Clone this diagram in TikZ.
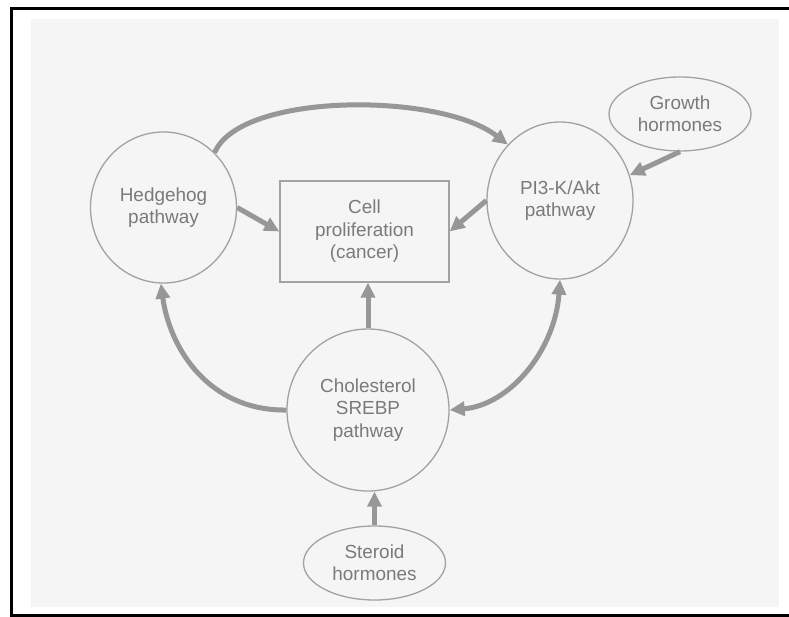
\documentclass[tikz,border=0pt]{standalone}
\usepackage{fontspec}
\setmainfont{Liberation Sans}
\usetikzlibrary{arrows.meta,shapes.geometric}
\definecolor{bggray}{HTML}{F5F5F5}
\definecolor{rimgray}{HTML}{A2A2A2}
\definecolor{arrgray}{HTML}{979797}
\definecolor{txtgray}{HTML}{7A7A7A}

\begin{document}
\begin{tikzpicture}[x=1bp,y=-1bp,
  blob/.style={ellipse, draw=rimgray, line width=1.3bp, inner sep=0pt,
    text=txtgray, align=center, font=\fontsize{19}{22.5}\selectfont},
  cellbox/.style={rectangle, draw=rimgray, line width=1.3bp, inner sep=0pt,
    text=txtgray, align=center, font=\fontsize{19}{22.5}\selectfont},
  link/.style={draw=arrgray, line width=5bp,
    -{Triangle[length=15bp,width=14bp]}},
  both/.style={draw=arrgray, line width=5bp,
    {Triangle[length=15bp,width=14bp]}-{Triangle[length=15bp,width=14bp]}}]
\useasboundingbox (0,0) rectangle (789,617);
\fill[bggray] (31,19) rectangle (779,607);
\draw[black, line width=3.2bp] (11.5,617) -- (11.5,8.5) -- (789,8.5);
\draw[black, line width=3bp] (10,615.5) -- (789,615.5);
% the pathways
\node[blob, minimum width=146bp, minimum height=151bp] (hedge) at (163.5,207.5) {Hedgehog\\pathway};
\node[cellbox, minimum width=169bp, minimum height=101bp] (cell) at (364.5,231.5) {Cell\\proliferation\\(cancer)};
\node[blob, minimum width=146bp, minimum height=157bp] (pik) at (560,200.5) {PI3-K/Akt\\pathway};
\node[blob, minimum width=142bp, minimum height=74bp] (growth) at (680,114) {Growth\\hormones};
\node[blob, minimum width=162bp, minimum height=162bp] (chol) at (368,410) {Cholesterol\\SREBP\\pathway};
\node[blob, minimum width=142bp, minimum height=74bp] (steroid) at (374.5,563) {Steroid\\hormones};
% links
\draw[link] (hedge.47) .. controls (240,92) and (440,92) .. (pik.133);
\draw[link] (hedge.east) -- (cell.west);
\draw[link] (pik.west) -- (cell.east);
\draw[link] (growth.south) -- (pik.20);
\draw[link] (chol.north) -- (chol.north |- cell.south);
\draw[link] (chol.west) .. controls (210,411) and (170,350) .. (hedge.268);
\draw[both] (pik.south) .. controls (555,350) and (510,405) .. (chol.east);
\draw[link] (steroid.north) -- (steroid.north |- chol.south);
\end{tikzpicture}
\end{document}
